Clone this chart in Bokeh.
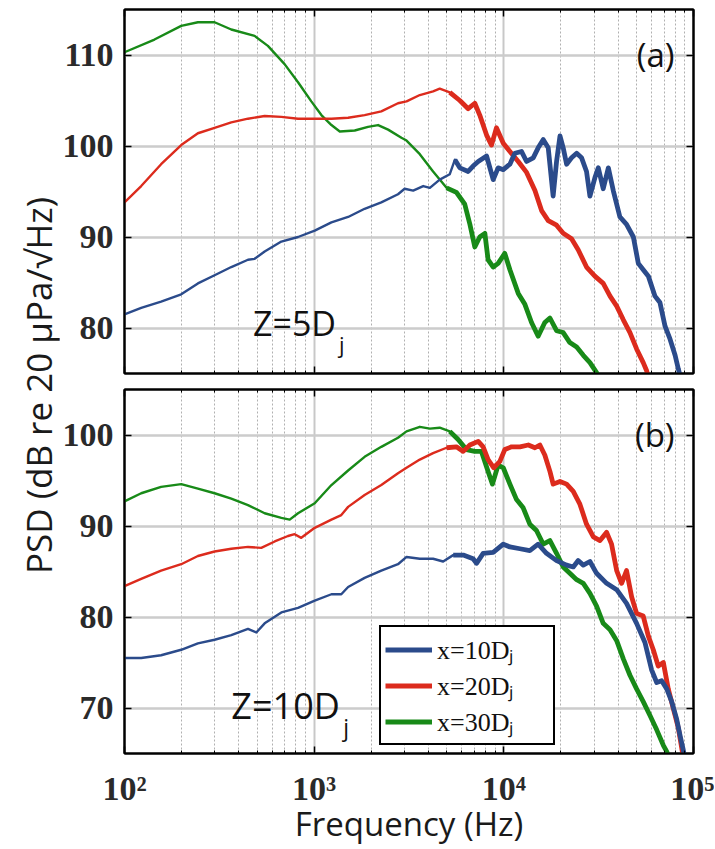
import numpy as np
from bokeh.plotting import figure
from bokeh.layouts import row, column
from bokeh.models import (FixedTicker, LogAxis, LinearAxis, Label, Legend,
                          LegendItem, Div)
from bokeh.embed import file_html
from bokeh.resources import INLINE

# ---------------- data (log10 of frequency in Hz, PSD in dB) ----------------
top_blue_logf = [2.000, 2.088, 2.193, 2.299, 2.387, 2.475, 2.563, 2.651, 2.686, 2.739, 2.827, 2.915,
                 3.003, 3.091, 3.179, 3.266, 3.354, 3.442, 3.477, 3.522, 3.575, 3.610, 3.662, 3.715,
                 3.742, 3.768, 3.812, 3.838, 3.865, 3.909, 3.944, 3.970, 3.997, 4.032, 4.058, 4.093,
                 4.120, 4.155, 4.181, 4.208, 4.234, 4.260, 4.278, 4.296, 4.313, 4.331, 4.357, 4.384,
                 4.410, 4.436, 4.454, 4.480, 4.498, 4.524, 4.551, 4.577, 4.612, 4.647, 4.683, 4.709,
                 4.735, 4.762, 4.797, 4.823, 4.850, 4.876, 4.903, 4.920, 4.935]
top_blue_db = [81.5, 82.2, 82.9, 83.7, 84.9, 85.8, 86.7, 87.5, 87.6, 88.4, 89.5, 90.0,
               90.7, 91.6, 92.2, 93.1, 93.8, 94.7, 95.3, 95.1, 95.6, 95.4, 96.3, 96.9,
               98.5, 97.6, 97.2, 97.8, 98.3, 98.9, 96.3, 97.6, 97.4, 98.0, 99.2, 99.4,
               98.3, 98.7, 99.8, 100.7, 99.8, 94.5, 98.3, 101.1, 99.8, 98.0, 98.7, 99.2,
               98.7, 97.2, 94.5, 96.5, 97.6, 95.3, 97.6, 95.1, 92.2, 91.4, 90.0, 87.1,
               86.4, 85.7, 83.5, 82.8, 80.2, 78.8, 77.0, 75.5, 74.3]

top_red_logf = [2.000, 2.088, 2.193, 2.299, 2.387, 2.475, 2.563, 2.651, 2.739, 2.827, 2.915, 3.003,
                3.091, 3.179, 3.266, 3.354, 3.442, 3.487, 3.557, 3.627, 3.662, 3.715, 3.768, 3.812,
                3.847, 3.873, 3.909, 3.935, 3.961, 3.997, 4.032, 4.076, 4.120, 4.164, 4.199, 4.234,
                4.278, 4.313, 4.357, 4.392, 4.436, 4.480, 4.524, 4.560, 4.595, 4.630, 4.665, 4.700,
                4.735, 4.753, 4.765]
top_red_db = [93.8, 95.6, 98.0, 100.1, 101.4, 102.0, 102.6, 103.0, 103.3, 103.2, 103.0, 103.0,
              103.0, 103.1, 103.4, 103.8, 104.7, 104.9, 105.6, 106.0, 106.3, 105.9, 105.0, 104.1,
              104.7, 103.4, 101.2, 100.1, 102.0, 100.3, 99.4, 98.3, 97.1, 95.1, 92.9, 91.8,
              91.3, 90.4, 89.8, 88.6, 86.7, 85.7, 84.9, 83.5, 82.4, 80.9, 79.5, 77.7,
              76.2, 75.3, 74.3]

top_green_logf = [2.000, 2.158, 2.299, 2.387, 2.475, 2.563, 2.686, 2.756, 2.844, 2.915, 2.985, 3.038,
                  3.091, 3.135, 3.214, 3.284, 3.337, 3.390, 3.460, 3.487, 3.557, 3.627, 3.698, 3.750,
                  3.794, 3.821, 3.847, 3.873, 3.900, 3.917, 3.944, 3.970, 4.005, 4.032, 4.076, 4.111,
                  4.146, 4.181, 4.216, 4.243, 4.278, 4.313, 4.348, 4.384, 4.419, 4.454, 4.489, 4.510]
top_green_db = [110.3, 111.7, 113.2, 113.6, 113.6, 112.8, 112.1, 111.0, 109.0, 107.0, 104.9, 103.4,
                102.3, 101.6, 101.7, 102.1, 102.3, 101.8, 100.9, 100.6, 99.1, 97.2, 95.4, 94.9,
                93.6, 91.4, 88.9, 90.0, 90.4, 87.5, 86.7, 87.1, 88.2, 86.4, 83.8, 82.6,
                80.6, 79.1, 80.6, 81.1, 79.7, 79.5, 78.4, 77.9, 77.0, 76.2, 75.1, 74.3]

bot_blue_logf = [2.000, 2.088, 2.193, 2.299, 2.387, 2.475, 2.563, 2.651, 2.695, 2.739, 2.827, 2.915,
                 3.003, 3.091, 3.143, 3.179, 3.266, 3.354, 3.442, 3.487, 3.557, 3.627, 3.680, 3.733,
                 3.786, 3.838, 3.856, 3.891, 3.944, 3.997, 4.032, 4.085, 4.137, 4.181, 4.225, 4.278,
                 4.331, 4.366, 4.392, 4.419, 4.454, 4.489, 4.542, 4.595, 4.647, 4.700, 4.744, 4.779,
                 4.806, 4.832, 4.859, 4.885, 4.911, 4.932, 4.946, 4.955]
bot_blue_db = [75.5, 75.5, 75.8, 76.4, 77.1, 77.5, 78.0, 78.7, 78.3, 79.3, 80.5, 81.0,
               81.8, 82.5, 82.5, 83.3, 84.3, 85.1, 85.8, 86.6, 86.4, 86.4, 86.1, 86.8,
               86.8, 86.4, 85.9, 87.0, 87.1, 88.0, 87.7, 87.5, 87.3, 88.0, 87.0, 86.2,
               85.7, 85.5, 86.2, 85.7, 86.1, 84.8, 83.7, 83.0, 81.5, 79.3, 77.2, 74.2,
               72.8, 73.0, 72.1, 70.7, 68.8, 66.7, 65.4, 64.3]

bot_red_logf = [2.000, 2.088, 2.193, 2.299, 2.387, 2.475, 2.563, 2.651, 2.721, 2.792, 2.862, 2.897,
                2.932, 3.003, 3.091, 3.143, 3.179, 3.266, 3.354, 3.442, 3.487, 3.557, 3.627, 3.698,
                3.750, 3.786, 3.821, 3.865, 3.891, 3.917, 3.947, 3.979, 4.005, 4.041, 4.085, 4.129,
                4.164, 4.190, 4.216, 4.243, 4.260, 4.296, 4.331, 4.366, 4.401, 4.436, 4.472, 4.507,
                4.542, 4.568, 4.595, 4.621, 4.647, 4.674, 4.700, 4.735, 4.762, 4.788, 4.814, 4.841,
                4.867, 4.894, 4.920, 4.938, 4.948]
bot_red_db = [83.4, 84.2, 85.1, 85.8, 86.7, 87.2, 87.5, 87.7, 87.6, 88.3, 88.9, 89.1,
              88.7, 89.8, 90.7, 91.2, 92.1, 93.4, 94.5, 95.8, 96.4, 97.3, 98.0, 98.6,
              98.7, 98.2, 98.9, 99.3, 98.7, 97.3, 96.4, 97.1, 98.4, 98.7, 98.7, 98.9,
              98.6, 98.9, 97.8, 96.0, 94.6, 94.9, 94.6, 93.8, 92.4, 90.2, 88.8, 88.4,
              89.3, 88.0, 85.1, 83.7, 85.1, 82.2, 80.4, 80.1, 77.9, 76.4, 74.6, 75.0,
              72.1, 69.9, 67.8, 65.6, 64.3]

bot_green_logf = [2.000, 2.088, 2.193, 2.299, 2.387, 2.475, 2.563, 2.651, 2.739, 2.827, 2.871, 2.915,
                  3.003, 3.091, 3.179, 3.266, 3.354, 3.442, 3.487, 3.557, 3.610, 3.662, 3.715, 3.759,
                  3.803, 3.847, 3.882, 3.917, 3.940, 3.970, 3.997, 4.032, 4.067, 4.102, 4.137, 4.172,
                  4.208, 4.243, 4.278, 4.313, 4.348, 4.384, 4.419, 4.454, 4.489, 4.524, 4.560, 4.595,
                  4.630, 4.665, 4.700, 4.735, 4.770, 4.806, 4.841, 4.859, 4.875]
bot_green_db = [92.7, 93.6, 94.3, 94.6, 94.1, 93.6, 93.0, 92.3, 91.4, 90.9, 90.7, 91.4,
                92.5, 94.5, 96.1, 97.6, 98.7, 99.7, 100.4, 100.9, 100.7, 100.8, 100.4, 99.5,
                98.4, 98.2, 98.2, 96.0, 94.6, 96.7, 96.4, 94.6, 92.9, 92.0, 90.2, 89.5,
                88.0, 88.4, 87.0, 85.5, 84.8, 84.1, 83.7, 82.6, 81.2, 79.3, 78.6, 77.4,
                75.4, 73.6, 72.1, 70.7, 69.2, 67.6, 65.9, 65.2, 64.3]

legend_labels = ["x=10D\u2c7c", "x=20D\u2c7c", "x=30D\u2c7c"]
x_major = [1e2, 1e3, 1e4, 1e5]
x_minor = [m * 10.0 ** e for e in (2, 3, 4) for m in range(2, 10)]
x_tick_labels = ["10\u00b2", "10\u00b3", "10\u2074", "10\u2075"]
top_yticks = [80, 90, 100, 110]
bot_yticks = [70, 80, 90, 100]

BLUE, RED, GREEN = "#2b4b8b", "#dc2b1d", "#188a18"
SERIF = "Liberation Serif"
SANS = "Open Sans"
THICK_FROM = 10 ** 3.75   # noisy high-frequency part drawn heavier
FIG_W = 655


def hz(logf):
    return 10.0 ** np.asarray(logf)


def hide_labels(ax):
    ax.major_label_text_font_size = "1px"
    ax.major_label_text_alpha = 0
    ax.major_label_standoff = 0


def panel(height, yrange, yticks, b_top, b_bottom, show_xlabels):
    p = figure(width=FIG_W, height=height, x_axis_type="log", x_range=(1e2, 1e5),
               y_range=yrange, output_backend="svg", toolbar_location=None,
               min_border_left=65, min_border_right=21,
               min_border_top=b_top, min_border_bottom=b_bottom)
    p.background_fill_color = "white"
    p.border_fill_color = "white"
    p.outline_line_color = "black"
    p.outline_line_width = 2

    xa = p.xaxis[0]
    xa.ticker = FixedTicker(ticks=x_major, minor_ticks=x_minor)
    ya = p.yaxis[0]
    ya.ticker = FixedTicker(ticks=yticks)
    for ax in (xa, ya):
        ax.axis_line_color = "black"
        ax.axis_line_width = 2
        ax.major_tick_in = 7
        ax.major_tick_out = 0
        ax.minor_tick_in = 3
        ax.minor_tick_out = 0
        ax.major_tick_line_width = 1.5
        ax.major_label_text_font = SERIF
        ax.major_label_text_font_style = "bold"
        ax.major_label_text_font_size = "34px"
        ax.major_label_text_color = "#2a2a2a"
    ya.minor_tick_line_color = None
    ya.major_label_standoff = 11
    if show_xlabels:
        xa.major_label_overrides = {float(v): t for v, t in zip(x_major, x_tick_labels)}
        xa.major_label_standoff = 16
        xa.axis_label = "Frequency (Hz)"
        xa.axis_label_text_font = SANS
        xa.axis_label_text_font_size = "33px"
        xa.axis_label_text_font_style = "normal"
        xa.axis_label_text_color = "#1a1a1a"
        xa.axis_label_standoff = -9
    else:
        hide_labels(xa)

    top_ax = LogAxis(ticker=FixedTicker(ticks=x_major, minor_ticks=x_minor),
                     major_tick_in=7, major_tick_out=0, minor_tick_in=3, minor_tick_out=0,
                     axis_line_width=2, major_tick_line_width=1.5)
    hide_labels(top_ax)
    p.add_layout(top_ax, "above")
    right_ax = LinearAxis(ticker=FixedTicker(ticks=yticks),
                          major_tick_in=7, major_tick_out=0, minor_tick_line_color=None,
                          axis_line_width=2, major_tick_line_width=1.5)
    hide_labels(right_ax)
    p.add_layout(right_ax, "right")

    p.xgrid.grid_line_color = "#c8c8c8"
    p.xgrid.grid_line_width = 2
    p.xgrid.minor_grid_line_color = "#b0b0b0"
    p.xgrid.minor_grid_line_dash = "2 2"
    p.xgrid.minor_grid_line_width = 1
    p.ygrid.grid_line_color = "#cccccc"
    p.ygrid.grid_line_width = 2.5
    return p


def draw(p, logf, db, color):
    x = hz(logf)
    y = np.asarray(db)
    p.line(x, y, line_color=color, line_width=2.4, line_join="round")
    m = x >= THICK_FROM
    i0 = max(int(np.argmax(m)) - 1, 0)
    return p.line(x[i0:], y[i0:], line_color=color, line_width=4.8, line_join="round")


def text(p, x, y, s, size, align="left", dx=0, font=SANS, style="normal", color="#111111"):
    p.add_layout(Label(x=x, y=y, x_offset=dx, text=s, text_align=align, text_baseline="middle",
                       text_font=font, text_font_style=style, text_font_size=size,
                       text_color=color))


# ---------------- top panel ----------------
top = panel(380, (75, 115), top_yticks, 9, 7, False)
draw(top, top_green_logf, top_green_db, GREEN)
draw(top, top_red_logf, top_red_db, RED)
draw(top, top_blue_logf, top_blue_db, BLUE)
text(top, 7.95e4, 110.1, "(a)", "33px", align="right")
text(top, 476, 80.6, "Z=5D", "34px")
text(top, 476, 78.2, "j", "22px", dx=86)

# ---------------- bottom panel ----------------
bot = panel(468, (65, 105), bot_yticks, 9, 95, True)
rg = draw(bot, bot_green_logf, bot_green_db, GREEN)
rr = draw(bot, bot_red_logf, bot_red_db, RED)
rb = draw(bot, bot_blue_logf, bot_blue_db, BLUE)
text(bot, 7.95e4, 100.1, "(b)", "33px", align="right")
text(bot, 366, 70.3, "Z=10D", "36px")
text(bot, 366, 67.9, "j", "23px", dx=112)

legend = Legend(items=[LegendItem(label=legend_labels[0], renderers=[rb]),
                       LegendItem(label=legend_labels[1], renderers=[rr]),
                       LegendItem(label=legend_labels[2], renderers=[rg])],
                location=(255, 8), orientation="vertical",
                label_text_font=SERIF, label_text_font_size="26px", label_text_color="#111111",
                glyph_width=47, glyph_height=29, label_height=29, label_width=112,
                label_standoff=5, spacing=0, padding=4, margin=0,
                border_line_color="black", border_line_width=2, border_line_alpha=1.0,
                background_fill_color="white", background_fill_alpha=1.0)
bot.add_layout(legend, "center")

# ---------------- shared y-axis title ----------------
ylab_html = (
    '<div style="box-sizing:border-box;width:59px;height:848px;padding-left:18px;'
    'padding-bottom:76px;display:flex;align-items:center;justify-content:center;">'
    '<span style="writing-mode:vertical-rl;transform:rotate(180deg);white-space:nowrap;'
    "font-family:'Open Sans';font-size:35px;color:#1a1a1a;line-height:1;\">"
    'PSD (dB re 20 \u03bcPa/\u221aHz)</span></div>'
)
ylab = Div(text=ylab_html, width=59, height=848, margin=0)

layout = row(ylab, column(top, bot))
open("out.html", "w").write(file_html(layout, INLINE))
